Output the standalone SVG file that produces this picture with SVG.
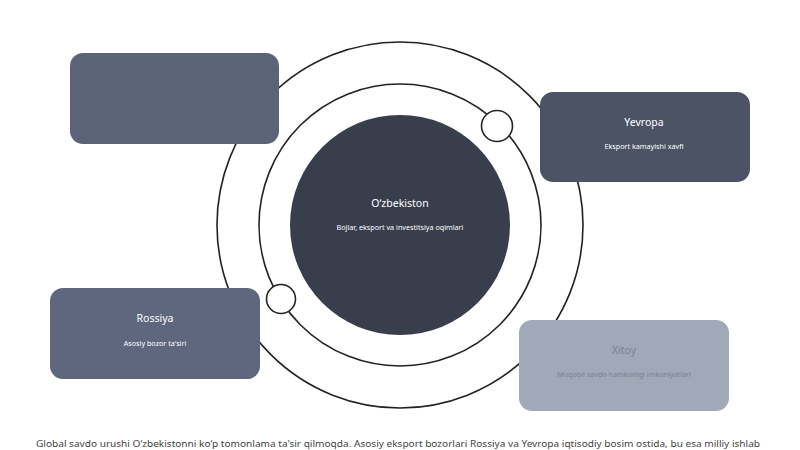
<svg xmlns="http://www.w3.org/2000/svg" width="800" height="450" viewBox="0 0 800 450">
<style>
.orbit{fill:none;stroke:#222;stroke-width:1.6}
.dot{fill:#fff;stroke:#222;stroke-width:1.6}
.t{font-family:"Noto Sans","Liberation Sans",sans-serif;fill:#fff;text-anchor:middle}
.tt{font-size:10.5px}
.st{font-size:7.2px}
.dk{fill:#7a8192}
.body{font-family:"Noto Sans","Liberation Sans",sans-serif;font-size:9.6px;fill:#444}
</style>
<rect width="800" height="450" fill="#fff"/>
<g id="connectors">
<circle class="orbit" cx="400" cy="225" r="183"/>
<circle class="orbit" cx="400" cy="225" r="141"/>
</g>
<g id="center">
<circle cx="400" cy="225" r="110" fill="#393e4c"/>
<text class="t tt" x="400" y="207">O‘zbekiston</text>
<text class="t st" x="400" y="230">Bojlar, eksport va investitsiya oqimlari</text>
</g>
<g id="dot1"><circle class="dot" cx="497" cy="126" r="15.5"/></g>
<g id="dot2"><circle class="dot" cx="281" cy="299" r="14.5"/></g>
<g id="box-topleft"><rect x="70" y="53" width="209" height="91" rx="13" fill="#5b6378"/></g>
<g id="yevropa">
<rect x="540" y="92" width="210" height="90" rx="13" fill="#4c5365"/>
<text class="t tt" x="644" y="126">Yevropa</text>
<text class="t st" x="644" y="149">Eksport kamayishi xavfi</text>
</g>
<g id="rossiya">
<rect x="50" y="288" width="210" height="91" rx="13" fill="#5f677e"/>
<text class="t tt" x="155" y="322">Rossiya</text>
<text class="t st" x="155" y="346">Asosiy bozor ta'siri</text>
</g>
<g id="xitoy">
<rect x="519" y="320" width="210" height="91" rx="13" fill="#a1a8b8"/>
<text class="t tt dk" x="624" y="354">Xitoy</text>
<text class="t st dk" x="624" y="377">Muqobil savdo hamkorligi imkoniyatlari</text>
</g>
<text class="body" x="36" y="447" textLength="724" lengthAdjust="spacingAndGlyphs">Global savdo urushi O‘zbekistonni ko‘p tomonlama ta'sir qilmoqda. Asosiy eksport bozorlari Rossiya va Yevropa iqtisodiy bosim ostida, bu esa milliy ishlab</text>
</svg>
